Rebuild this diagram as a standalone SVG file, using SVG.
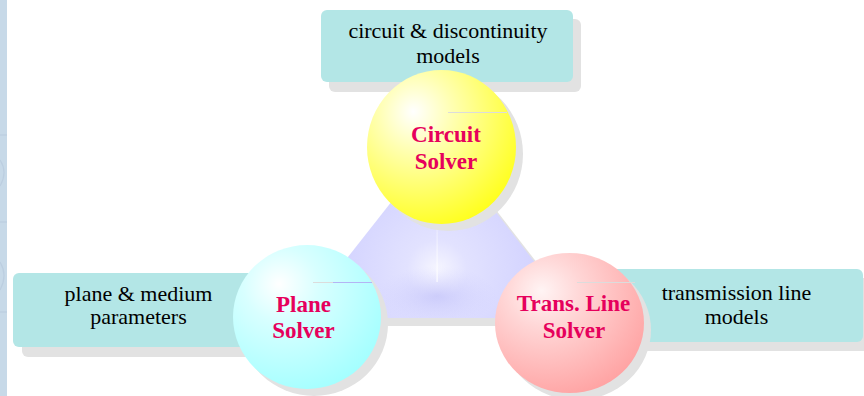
<svg xmlns="http://www.w3.org/2000/svg" width="864" height="396" viewBox="0 0 864 396">
  <defs>
    <radialGradient id="gYellow" cx="0.36" cy="0.3" r="0.85" fx="0.31" fy="0.27">
      <stop offset="0" stop-color="#ffffff"/>
      <stop offset="0.3" stop-color="#ffffb0"/>
      <stop offset="1" stop-color="#ffff00"/>
    </radialGradient>
    <radialGradient id="gCyan" cx="0.36" cy="0.3" r="0.85" fx="0.31" fy="0.27">
      <stop offset="0" stop-color="#ffffff"/>
      <stop offset="0.3" stop-color="#d8ffff"/>
      <stop offset="1" stop-color="#99ffff"/>
    </radialGradient>
    <radialGradient id="gPink" cx="0.36" cy="0.3" r="0.85" fx="0.31" fy="0.27">
      <stop offset="0" stop-color="#fff4f4"/>
      <stop offset="0.3" stop-color="#ffd6d6"/>
      <stop offset="1" stop-color="#ff9999"/>
    </radialGradient>
    <radialGradient id="gHub" gradientUnits="userSpaceOnUse" cx="437" cy="270" r="150">
      <stop offset="0" stop-color="#f6f6ff"/>
      <stop offset="0.2" stop-color="#e2e2ff"/>
      <stop offset="1" stop-color="#c8c8ff"/>
    </radialGradient>
    <linearGradient id="gRay" x1="0" y1="1" x2="0" y2="0">
      <stop offset="0" stop-color="#ffffff" stop-opacity="0.9"/>
      <stop offset="1" stop-color="#ffffff" stop-opacity="0"/>
    </linearGradient>
    <radialGradient id="gBelow" gradientUnits="userSpaceOnUse" cx="437" cy="296" r="60" gradientTransform="translate(0 148) scale(1 0.5)">
      <stop offset="0" stop-color="#a8a8f4" stop-opacity="0.4"/>
      <stop offset="1" stop-color="#c8c8ff" stop-opacity="0"/>
    </radialGradient>
  </defs>
  <style>
    .box { fill: #b3e6e6; }
    .shadow { fill: #e2e2e2; }
    .label { font-family: "Liberation Serif", "Times New Roman", serif; font-size: 22px; fill: #000000; text-anchor: middle; }
    .title { font-family: "Liberation Serif", "Times New Roman", serif; font-size: 23px; font-weight: bold; fill: #e6005c; text-anchor: middle; }
    .gleam { stroke: #dcdcdc; stroke-width: 1; }
  </style>

  <rect x="0" y="0" width="864" height="396" fill="#ffffff"/>

  <!-- page margin strip -->
  <g id="margin">
    <rect x="0" y="0" width="7" height="396" fill="#c7d9e8"/>
    <g fill="none" stroke="#b6c8dc" stroke-width="1.2" opacity="0.6">
      <path d="M0 135 H7"/>
      <path d="M0 160 Q8 172 0 186"/>
      <path d="M0 222 H7"/>
      <path d="M0 262 Q8 275 0 290"/>
      <path d="M0 312 H7"/>
    </g>
  </g>

  <!-- model boxes with drop shadows -->
  <g id="circuit-models">
    <rect class="shadow" x="329" y="19" width="252" height="73" rx="6"/>
    <rect class="box" x="321" y="10" width="252" height="72" rx="6"/>
    <text class="label" x="448" y="38">circuit &amp; discontinuity</text>
    <text class="label" x="448" y="63">models</text>
  </g>

  <g id="plane-parameters">
    <rect class="shadow" x="22" y="283" width="247" height="74" rx="6"/>
    <rect class="box" x="13" y="273" width="247" height="74" rx="6"/>
    <text class="label" x="138.5" y="301">plane &amp; medium</text>
    <text class="label" x="138.5" y="324">parameters</text>
  </g>

  <g id="line-models">
    <rect class="shadow" x="608" y="278" width="270" height="73" rx="6"/>
    <rect class="box" x="600" y="269" width="263" height="73" rx="6"/>
    <text class="label" x="736.5" y="300">transmission line</text>
    <text class="label" x="736.5" y="324">models</text>
  </g>

  <!-- central hub joining the three solvers -->
  <g id="connectors">
    <polygon class="shadow" points="448,148 308,326 586,326"/>
    <polygon points="440,140 300,318 578,318" fill="url(#gHub)"/>
    <rect x="377" y="266" width="120" height="52" fill="url(#gBelow)"/>
    <rect x="436.5" y="200" width="1.2" height="82" fill="url(#gRay)"/>
  </g>

  <!-- solver spheres -->
  <g id="circuit-solver">
    <ellipse class="shadow" cx="448.5" cy="154" rx="74.5" ry="77"/>
    <ellipse cx="441.5" cy="147" rx="74.5" ry="77" fill="url(#gYellow)"/>
    <line class="gleam" x1="448" y1="112.5" x2="507" y2="112.5"/>
    <text class="title" x="446" y="142">Circuit</text>
    <text class="title" x="446" y="169">Solver</text>
  </g>

  <g id="plane-solver">
    <ellipse class="shadow" cx="314" cy="324" rx="74" ry="72"/>
    <ellipse cx="307" cy="317" rx="74" ry="72" fill="url(#gCyan)"/>
    <line class="gleam" x1="313" y1="282.5" x2="333" y2="282.5"/>
    <line x1="333" y1="282.5" x2="372" y2="282.5" stroke="#b4b4f4" stroke-width="1"/>
    <text class="title" x="303.5" y="312">Plane</text>
    <text class="title" x="303.5" y="338">Solver</text>
  </g>

  <g id="line-solver">
    <ellipse class="shadow" cx="576.5" cy="330" rx="74.5" ry="70"/>
    <ellipse cx="569.5" cy="323" rx="74.5" ry="70" fill="url(#gPink)"/>
    <line class="gleam" x1="577" y1="282.5" x2="635" y2="282.5"/>
    <text class="title" x="573.5" y="311">Trans. Line</text>
    <text class="title" x="574" y="338">Solver</text>
  </g>
</svg>
